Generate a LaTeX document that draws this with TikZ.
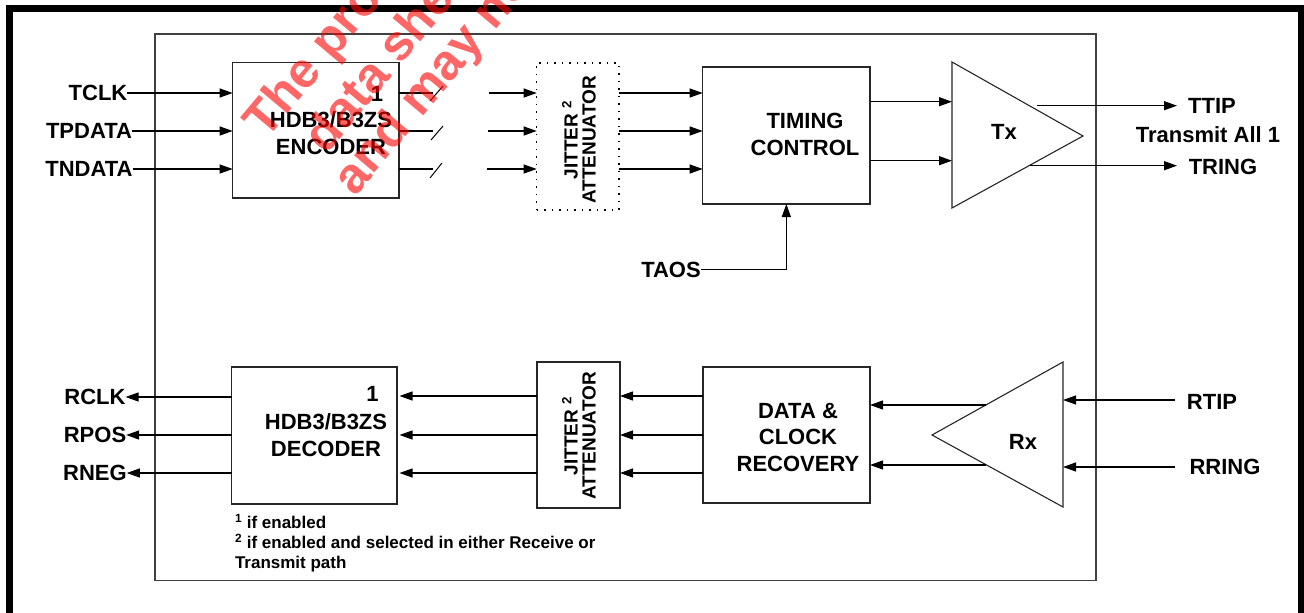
\documentclass[tikz,border=0pt]{standalone}
\usepackage{fontspec}
\setmainfont{Liberation Sans}
\usetikzlibrary{arrows.meta}
\begin{document}
\begin{tikzpicture}[x=1pt,y=-1pt,
  every node/.style={font=\bfseries\fontsize{22}{26.5}\selectfont, inner sep=0pt, outer sep=0pt},
  box/.style={draw, line width=1.1pt, black!85, outer sep=0pt},
  ln/.style={line width=1.2pt},
  arr/.style={ln, -{Triangle[length=13pt,width=9pt]}},
  jtxt/.style={rotate=90, align=center, font=\bfseries\fontsize{19}{18}\selectfont},
  wm/.style={rotate=50, anchor=base west, text=red, text opacity=0.6, font=\bfseries\fontsize{50}{50}\selectfont}
]
\useasboundingbox (0,0) rectangle (1304,613);
\fill[white] (0,0) rectangle (1304,613);
% frames
\draw[line width=7pt] (9,613) -- (9,8.5) -- (1301,8.5) -- (1301,613);
\draw[line width=1.3pt, black!75] (155,34) rectangle (1096,580.5);

% ---------- transmit path ----------
\node[box, anchor=north west, minimum width=166.3pt, minimum height=135.3pt] (enc) at (232.7,62.7) {};
\node (enc1) at (377,94) {1};
\node[align=center] (enctext) at (331,133) {HDB3/B3ZS\\ENCODER};

\node[draw, line width=1.1pt, dash pattern=on 1.5pt off 6pt, anchor=north west, minimum width=82.3pt, minimum height=147pt] (jit) at (536.7,63) {};
\node[jtxt] (jittext) at (579,140) {JITTER \textsuperscript{2}\\ATTENUATOR};

\node[box, anchor=north west, minimum width=167.3pt, minimum height=137pt] (tc) at (702.7,67) {};
\node[align=center] (tctext) at (805,134.5) {TIMING\\CONTROL};

\coordinate (txA) at (952,62);
\coordinate (txB) at (952,208);
\coordinate (txC) at (1083,136);
\draw[line width=1.1pt, black!85] (txA) -- (txC) -- (txB) -- cycle;
\node (tx) at (1004,132) {Tx};

\node (tclk) at (98,93) {TCLK};
\node (tpdata) at (89,131) {TPDATA};
\node (tndata) at (89,169) {TNDATA};
\draw[arr] (tclk.east) -- (tclk.east -| enc.west);
\draw[arr] (tpdata.east) -- (tpdata.east -| enc.west);
\draw[arr] (tndata.east) -- (tndata.east -| enc.west);

% encoder outputs with bus slashes
\coordinate (eo1) at (433,93);
\coordinate (eo2) at (433,131);
\coordinate (eo3) at (433,169);
\draw[ln] (enc.east |- eo1) -- (eo1);
\draw[ln] (enc.east |- eo2) -- (eo2);
\draw[ln] (enc.east |- eo3) -- (eo3);
\draw[line width=1pt] (430,101) -- (443,86);
\draw[line width=1pt] (431,140) -- (443,126);
\draw[line width=1pt] (430,178) -- (442,163);
\coordinate (ji1) at (489,93);
\coordinate (ji2) at (488,131);
\coordinate (ji3) at (487,169);
\draw[arr] (ji1) -- (ji1 -| jit.west);
\draw[arr] (ji2) -- (ji2 -| jit.west);
\draw[arr] (ji3) -- (ji3 -| jit.west);
\draw[arr] (jit.east |- ji1) -- (ji1 -| tc.west);
\draw[arr] (jit.east |- ji2) -- (ji2 -| tc.west);
\draw[arr] (jit.east |- ji3) -- (ji3 -| tc.west);

\coordinate (t1) at (0,101.7);
\coordinate (t2) at (0,160.7);
\draw[arr] (tc.east |- t1) -- (txA |- t1);
\draw[arr] (tc.east |- t2) -- (txA |- t2);

\node (taos) at (671,269.5) {TAOS};
\draw[arr] (taos.east) -| (tc.south);

\node (ttip) at (1212,106) {TTIP};
\node (tall) at (1208,135) {Transmit All 1};
\node (tring) at (1223,167) {TRING};
\coordinate (ttipS) at (1037,105.7);
\coordinate (tringS) at (1030,165.7);
\coordinate (ttipE) at (1177,105.7);
\coordinate (tringE) at (1177,165.7);
\draw[arr] (ttipS) -- (ttipE);
\draw[arr] (tringS) -- (tringE);

% ---------- receive path ----------
\node[box, anchor=north west, minimum width=165.3pt, minimum height=137pt] (dec) at (231.7,367) {};
\node (dec1) at (372.5,394) {1};
\node[align=center] (dectext) at (326,435) {HDB3/B3ZS\\DECODER};

\node[box, anchor=north west, minimum width=83pt, minimum height=146pt] (jit2) at (537,362) {};
\node[jtxt] (jit2text) at (579,436) {JITTER \textsuperscript{2}\\ATTENUATOR};

\node[box, anchor=north west, minimum width=167pt, minimum height=136pt] (dcr) at (703,367) {};
\node[align=center] (dcrtext) at (798,437) {DATA \&\\CLOCK\\RECOVERY};

\coordinate (rxA) at (1063,362);
\coordinate (rxB) at (1063,507);
\coordinate (rxC) at (932,435);
\draw[line width=1.1pt, black!85] (rxA) -- (rxC) -- (rxB) -- cycle;
\node (rx) at (1023,442) {Rx};

\node (rtip) at (1212,402) {RTIP};
\node (rring) at (1225,467) {RRING};
\coordinate (rtipS) at (1175,400);
\coordinate (rringS) at (1175,467);
\draw[arr] (rtipS) -- (rtipS -| rxA);
\draw[arr] (rringS) -- (rringS -| rxA);

\coordinate (rx1) at (986,405);
\coordinate (rx2) at (986,465);
\draw[arr] (rx1) -- (rx1 -| dcr.east);
\draw[arr] (rx2) -- (rx2 -| dcr.east);

\coordinate (r1) at (0,396);
\coordinate (r2) at (0,435);
\coordinate (r3) at (0,473);
\draw[arr] (dcr.west |- r1) -- (jit2.east |- r1);
\draw[arr] (dcr.west |- r2) -- (jit2.east |- r2);
\draw[arr] (dcr.west |- r3) -- (jit2.east |- r3);
\draw[arr, shorten >=2.5pt] (jit2.west |- r1) -- (dec.east |- r1);
\draw[arr, shorten >=2.5pt] (jit2.west |- r2) -- (dec.east |- r2);
\draw[arr, shorten >=2.5pt] (jit2.west |- r3) -- (dec.east |- r3);

\node (rclk) at (95,397) {RCLK};
\node (rpos) at (95,435) {RPOS};
\node (rneg) at (95,473) {RNEG};
\draw[arr] (dec.west |- rclk) -- (rclk.east);
\draw[arr] (dec.west |- rpos) -- (rpos.east);
\draw[arr] (dec.west |- rneg) -- (rneg.east);

\node[anchor=north west, align=left, font=\bfseries\fontsize{17}{20}\selectfont] (notes) at (235,514)
  {\textsuperscript{1} if enabled\\\textsuperscript{2} if enabled and selected in either Receive or\\Transmit path};

% ---------- watermark ----------
\begin{scope}
\clip (0,0) rectangle (1304,613);
\node[wm] (wm1) at (266,140) {The product};
\node[wm] (wm2) at (326,155) {data sheet};
\node[wm] (wm3) at (355,197) {and may not};
\end{scope}
\end{tikzpicture}
\end{document}
